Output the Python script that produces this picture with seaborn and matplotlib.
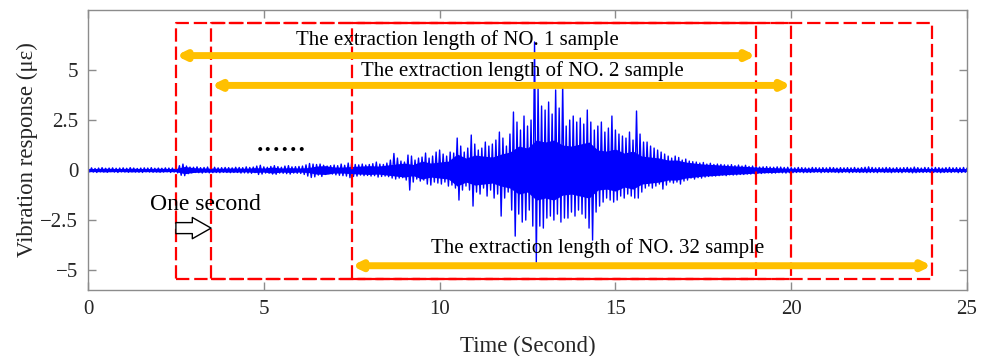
import numpy as np
import matplotlib
matplotlib.use("Agg")
import matplotlib.pyplot as plt
import seaborn as sns

# ---------------- data ----------------
dt = 0.05  # sampling step of the listed readings (s)
vib = [
    # 0-1 s
    0.1,-0.09,0.11,-0.1,0.08,-0.12,0.1,-0.09,0.12,-0.1,0.09,-0.11,0.1,-0.08,0.11,-0.1,0.09,-0.12,0.1,-0.09,
    # 1-2 s
    0.11,-0.1,0.09,-0.11,0.12,-0.09,0.1,-0.1,0.08,-0.11,0.1,-0.12,0.11,-0.09,0.1,-0.1,0.12,-0.11,0.09,-0.1,
    # 2-3 s
    0.1,-0.11,0.09,-0.1,0.11,-0.09,0.1,-0.12,0.1,-0.1,0.12,-0.14,0.22,-0.26,0.3,-0.28,0.2,-0.18,0.15,-0.14,
    # 3-4 s
    0.14,-0.12,0.16,-0.13,0.12,-0.15,0.13,-0.12,0.15,-0.14,0.12,-0.13,0.14,-0.12,0.11,-0.13,0.12,-0.11,0.13,-0.12,
    # 4-5 s
    0.12,-0.13,0.11,-0.12,0.14,-0.12,0.13,-0.15,0.12,-0.14,0.16,-0.15,0.13,-0.16,0.15,-0.13,0.2,-0.22,0.24,-0.2,
    # 5-6 s
    0.16,-0.15,0.14,-0.16,0.18,-0.2,0.22,-0.21,0.17,-0.15,0.14,-0.16,0.2,-0.18,0.22,-0.2,0.16,-0.15,0.17,-0.16,
    # 6-7 s
    0.18,-0.17,0.2,-0.22,0.26,-0.3,0.33,-0.37,0.3,-0.34,0.28,-0.25,0.3,-0.32,0.24,-0.22,0.2,-0.18,0.22,-0.2,
    # 7-8 s
    0.25,-0.24,0.22,-0.26,0.3,-0.28,0.24,-0.3,0.35,-0.38,0.38,-0.32,0.28,-0.3,0.26,-0.25,0.3,-0.28,0.25,-0.27,
    # 8-9 s
    0.28,-0.3,0.32,-0.28,0.4,-0.35,0.3,-0.32,0.28,-0.3,0.35,-0.33,0.5,-0.4,0.83,-0.45,0.6,-0.4,0.45,-0.38,
    # 9-10 s
    0.4,-0.5,0.75,-1.0,0.7,-0.6,0.5,-0.45,0.6,-0.55,0.65,-0.5,0.85,-0.7,0.6,-0.75,0.7,-0.6,0.9,-0.65,
    # 10-11 s
    1.0,-0.7,0.8,-0.6,0.7,-0.8,0.9,-0.75,0.85,-0.9,1.6,-1.5,1.2,-1.0,0.9,-0.8,1.1,-1.0,1.75,-1.8,
    # 11-12 s
    1.3,-1.1,1.0,-1.2,1.1,-0.9,1.4,-1.3,1.2,-1.0,1.3,-1.4,1.5,-1.2,1.9,-2.3,1.6,-1.4,1.2,-1.1,
    # 12-13 s
    1.8,-2.0,2.9,-3.3,2.4,-2.2,2.0,-2.6,2.7,-2.5,2.2,-2.0,2.5,-2.8,6.4,-4.6,4.1,-2.8,3.2,-2.9,
    # 13-14 s
    3.0,-2.4,3.4,-2.3,2.8,-2.5,4.0,-2.2,3.1,-2.6,4.3,-2.4,2.2,-2.4,2.5,-2.1,2.7,-2.3,2.4,-2.0,
    # 14-15 s
    2.6,-2.2,2.3,-2.4,3.0,-2.9,2.4,-3.5,2.0,-2.1,2.2,-1.8,2.4,-1.6,1.9,-1.4,2.1,-1.5,2.7,-1.6,
    # 15-16 s
    2.0,-1.5,1.8,-1.3,1.7,-1.4,1.6,-1.2,1.9,-1.3,1.5,-1.4,2.95,-1.4,1.8,-1.1,1.4,-0.9,1.4,-0.8,
    # 16-17 s
    1.2,-0.9,1.1,-0.8,1.0,-0.7,0.9,-0.95,0.8,-0.75,0.7,-0.6,0.6,-0.65,0.7,-0.6,0.63,-0.7,0.5,-0.55,
    # 17-18 s
    0.55,-0.5,0.45,-0.4,0.42,-0.45,0.4,-0.38,0.35,-0.4,0.38,-0.35,0.3,-0.32,0.34,-0.3,0.28,-0.3,0.3,-0.28,
    # 18-19 s
    0.28,-0.25,0.26,-0.28,0.25,-0.24,0.27,-0.25,0.22,-0.24,0.25,-0.22,0.2,-0.22,0.24,-0.2,0.18,-0.2,0.2,-0.18,
    # 19-20 s
    0.18,-0.16,0.15,-0.17,0.16,-0.15,0.17,-0.14,0.15,-0.16,0.14,-0.15,0.16,-0.13,0.15,-0.14,0.13,-0.15,0.14,-0.13,
    # 20-21 s
    0.12,-0.13,0.11,-0.12,0.13,-0.11,0.12,-0.13,0.11,-0.12,0.1,-0.12,0.13,-0.11,0.12,-0.1,0.11,-0.13,0.12,-0.11,
    # 21-22 s
    0.11,-0.12,0.13,-0.1,0.12,-0.11,0.1,-0.13,0.12,-0.12,0.11,-0.1,0.12,-0.13,0.11,-0.12,0.13,-0.11,0.1,-0.12,
    # 22-23 s
    0.12,-0.11,0.14,-0.13,0.16,-0.12,0.13,-0.12,0.11,-0.13,0.12,-0.1,0.11,-0.12,0.13,-0.11,0.12,-0.13,0.1,-0.11,
    # 23-24 s
    0.12,-0.12,0.11,-0.13,0.12,-0.1,0.13,-0.12,0.11,-0.14,0.15,-0.13,0.12,-0.11,0.1,-0.12,0.13,-0.11,0.12,-0.12,
    # 24-25 s
    0.11,-0.12,0.13,-0.11,0.12,-0.13,0.1,-0.12,0.12,-0.11,0.13,-0.12,0.11,-0.1,0.12,-0.13,0.11,-0.12,0.13,-0.11,
    0.1,
]
time = np.arange(len(vib)) * dt

# half-width of the dense core band of the record, read every 0.25 s
band_dt = 0.25
band_half = [
    0.08, 0.08, 0.09, 0.08, 0.08, 0.09, 0.08, 0.08, 0.09, 0.08,   # 0 - 2.25 s
    0.08, 0.18, 0.12, 0.1, 0.1, 0.09, 0.1, 0.1, 0.09, 0.12,       # 2.5 - 4.75 s
    0.1, 0.15, 0.1, 0.12, 0.1, 0.12, 0.2, 0.22, 0.15, 0.15,       # 5 - 7.25 s
    0.18, 0.2, 0.22, 0.2, 0.25, 0.3, 0.35, 0.28, 0.45, 0.35,      # 7.5 - 9.75 s
    0.4, 0.45, 0.8, 0.6, 0.75, 0.7, 0.65, 0.8, 0.9, 1.2,          # 10 - 12.25 s
    1.1, 1.5, 1.4, 1.5, 1.25, 1.2, 1.3, 1.4, 1.0, 0.95,           # 12.5 - 14.75 s
    1.05, 0.85, 0.95, 0.7, 0.65, 0.6, 0.5, 0.5, 0.4, 0.35,        # 15 - 17.25 s
    0.3, 0.28, 0.25, 0.22, 0.2, 0.18, 0.15, 0.13, 0.12, 0.1,      # 17.5 - 19.75 s
    0.09, 0.08, 0.09, 0.08, 0.08, 0.09, 0.08, 0.08, 0.09, 0.08,   # 20 - 22.25 s
    0.08, 0.09, 0.08, 0.08, 0.09, 0.08, 0.08, 0.09, 0.08, 0.08,   # 22.5 - 24.75 s
    0.08,                                                          # 25 s
]
band_time = np.arange(len(band_half)) * band_dt

sample_names = ["NO. 1", "NO. 2", "NO. 32"]
sample_start = [2.5, 3.5, 7.5]
sample_end = [19.0, 20.0, 24.0]
arrow_y = [5.72, 4.23, -4.78]
label_x = [10.51, 12.36, 14.48]
label_y = [6.5, 4.95, -3.88]
box_top, box_bottom = 7.35, -5.45

xticks = [0, 5, 10, 15, 20, 25]
yticks = [-5, -2.5, 0, 2.5, 5]
ytick_labels = ["\u22125", "\u22122.5", "0", "2.5", "5"]

# ---------------- style ----------------
sns.set_theme(style="ticks")
plt.rcParams["font.family"] = ["Liberation Serif", "DejaVu Serif"]

fig = plt.figure(figsize=(9.9, 3.56), dpi=100)
ax = fig.add_axes([0.0889, 0.185, 0.8879, 0.787])

band = np.array(band_half)
ax.fill_between(band_time, -band, band, color="#0000FF", lw=0, zorder=2)
sns.lineplot(x=time, y=vib, ax=ax, color="#0000FF", lw=1.0,
             estimator=None, sort=False, zorder=2)

# red dashed extraction windows
for s, e in zip(sample_start, sample_end):
    ax.plot([s, e, e, s, s], [box_bottom, box_bottom, box_top, box_top, box_bottom],
            color="#FF0000", lw=1.6, ls=(0, (6, 2.2)), zorder=3)

# yellow double arrows + labels
for name, s, e, ay, lx, ly in zip(sample_names, sample_start, sample_end,
                                  arrow_y, label_x, label_y):
    ax.annotate("", xy=(e, ay), xytext=(s, ay),
                arrowprops=dict(arrowstyle="<|-|>,head_length=0.45,head_width=0.22",
                                color="#FFC000", lw=5, shrinkA=0, shrinkB=0,
                                mutation_scale=10), zorder=4)
    ax.text(lx, ly, f"The extraction length of {name} sample", ha="center",
            va="center", fontsize=15, color="black", zorder=5)

# one-second shift
ax.annotate("", xy=(sample_start[1], -2.9), xytext=(sample_start[0], -2.9),
            arrowprops=dict(arrowstyle="simple,head_length=0.75,head_width=0.85,tail_width=0.44",
                            fc="white", ec="black", lw=1, shrinkA=0, shrinkB=0,
                            mutation_scale=18), zorder=5)
ax.text(3.34, -1.7, "One second", ha="center", va="center", fontsize=17, color="black")
ax.text(5.49, 0.93, "......", ha="center", va="baseline", fontsize=24, color="black")

ax.set_xlim(0, 25)
ax.set_ylim(-6, 8)
ax.set_xticks(xticks)
ax.set_yticks(yticks)
ax.set_yticklabels(ytick_labels)
ax.set_xlabel("Time (Second)", fontsize=16.5, color="#262626", labelpad=12)
ax.set_ylabel("Vibration response (\u03bc\u03b5)", fontsize=16.5, color="#262626", labelpad=2)

for sp in ax.spines.values():
    sp.set_visible(True)
    sp.set_color("#8c8c8c")
    sp.set_linewidth(1.0)
ax.tick_params(direction="in", length=6, width=1.0, color="#8c8c8c",
               labelsize=15, labelcolor="#262626", top=True, right=True, pad=7)

fig.savefig("out.png", dpi=100)
